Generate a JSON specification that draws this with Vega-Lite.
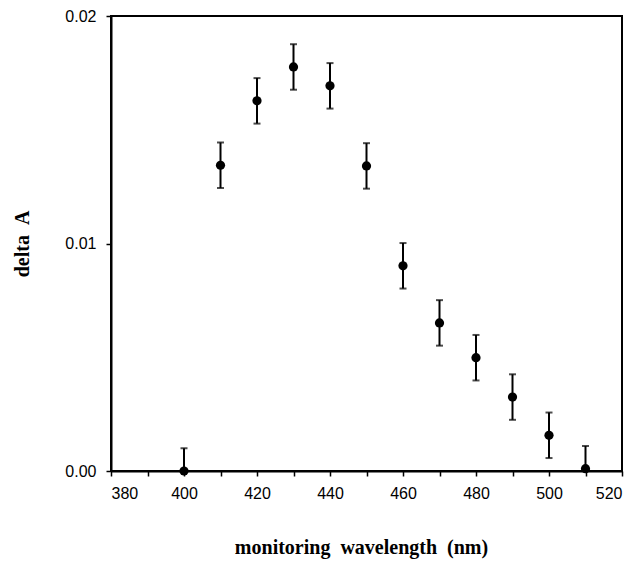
{
  "$schema": "https://vega.github.io/schema/vega-lite/v6.json",
  "autosize": {"type": "none"},
  "padding": {"left": 111, "top": 16, "right": 15, "bottom": 92},
  "width": 511,
  "height": 455,
  "background": "white",
  "config": {
    "view": {"stroke": "black", "strokeWidth": 2},
    "axis": {
      "grid": false,
      "domainColor": "black",
      "domainWidth": 2,
      "tickColor": "black",
      "tickWidth": 1.5,
      "tickSize": 5,
      "labelFont": "Liberation Sans",
      "labelFontSize": 16,
      "labelColor": "black",
      "titleFont": "Liberation Serif",
      "titleFontWeight": "bold",
      "titleFontSize": 20,
      "titleColor": "black"
    }
  },
  "data": {
    "values": [
      {"wavelength": 400, "dA": 0.0, "err": 0.001},
      {"wavelength": 410, "dA": 0.01344, "err": 0.001},
      {"wavelength": 420, "dA": 0.01627, "err": 0.001},
      {"wavelength": 430, "dA": 0.01776, "err": 0.001},
      {"wavelength": 440, "dA": 0.01693, "err": 0.001},
      {"wavelength": 450, "dA": 0.01341, "err": 0.001},
      {"wavelength": 460, "dA": 0.00902, "err": 0.001},
      {"wavelength": 470, "dA": 0.00651, "err": 0.001},
      {"wavelength": 480, "dA": 0.00498, "err": 0.001},
      {"wavelength": 490, "dA": 0.00325, "err": 0.001},
      {"wavelength": 500, "dA": 0.00157, "err": 0.001},
      {"wavelength": 510, "dA": 0.0001, "err": 0.001}
    ]
  },
  "encoding": {
    "x": {
      "field": "wavelength",
      "type": "quantitative",
      "scale": {"domain": [380, 520], "nice": false, "zero": false},
      "axis": {
        "title": "monitoring\u00a0\u00a0wavelength\u00a0\u00a0(nm)",
        "values": [380, 390, 400, 410, 420, 430, 440, 450, 460, 470, 480, 490, 500, 510, 520],
        "labelExpr": "datum.value % 20 === 0 ? datum.label : ''",
        "labelPadding": 9,
        "titlePadding": 36,
        "titleX": 250
      }
    },
    "y": {
      "field": "dA",
      "type": "quantitative",
      "scale": {"domain": [0, 0.02], "nice": false},
      "axis": {
        "title": "delta\u00a0\u00a0A",
        "values": [0, 0.01, 0.02],
        "format": ".2f",
        "labelPadding": 10,
        "titlePadding": 32
      }
    }
  },
  "layer": [
    {
      "mark": {
        "type": "errorbar",
        "clip": true,
        "color": "black",
        "thickness": 2,
        "ticks": {"size": 7, "strokeWidth": 2, "color": "black"}
      },
      "encoding": {
        "yError": {"field": "err"}
      }
    },
    {
      "mark": {"type": "point", "filled": true, "size": 85, "color": "black", "opacity": 1},
      "encoding": {}
    }
  ]
}
